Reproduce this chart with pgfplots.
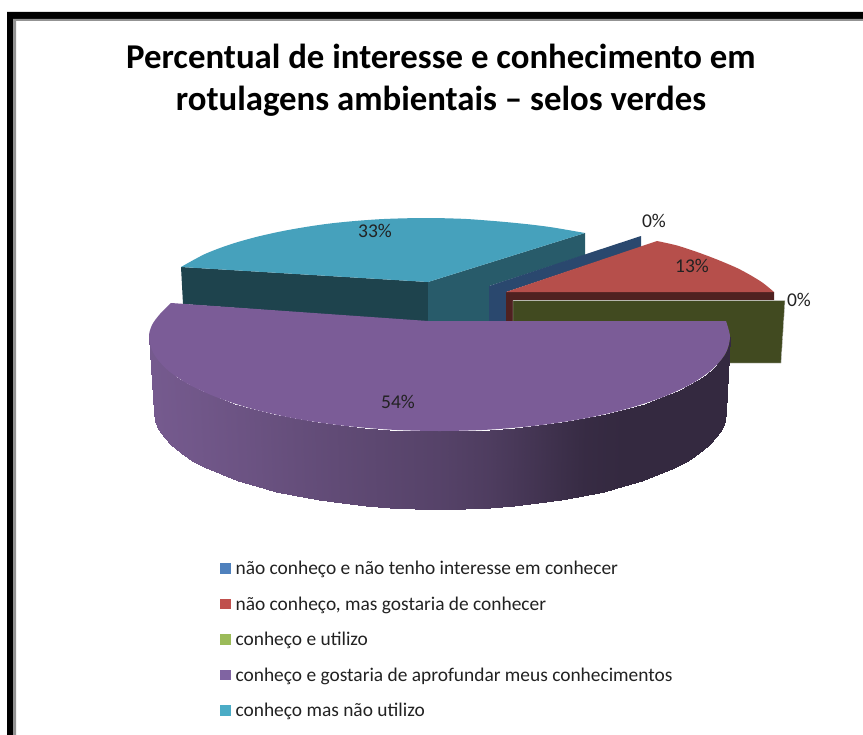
\documentclass[border=0pt]{standalone}
\usepackage{fontspec}
\setmainfont{Carlito}
\usepackage{pgfplots}
\pgfplotsset{compat=1.18}
\definecolor{lblue}{HTML}{4F81BD}
\definecolor{lred}{HTML}{C0504D}
\definecolor{lgreen}{HTML}{9BBB59}
\definecolor{lpurple}{HTML}{8064A2}
\definecolor{lteal}{HTML}{4BACC6}
\definecolor{ttop}{HTML}{46A1BC}
\definecolor{tleft}{HTML}{1E434D}
\definecolor{tright}{HTML}{285B6A}
\definecolor{bside}{HTML}{2A486E}
\definecolor{rtop}{HTML}{B64F4B}
\definecolor{rside}{HTML}{4F2120}
\definecolor{gside}{HTML}{414A20}
\definecolor{ptop}{HTML}{7B5C97}
\definecolor{txt}{HTML}{222222}
\begin{document}
\begin{tikzpicture}
\begin{axis}[
  scale only axis, width=863bp, height=735bp,
  xmin=0, xmax=863, ymin=0, ymax=735, y dir=reverse,
  axis lines=none, clip=true,
  colormap={wall}{rgb255(0cm)=(52,41,64); rgb255(1cm)=(117,90,142)},
  point meta min=0, point meta max=100,
  legend style={draw=none, fill=none, at={(axis cs:220,561)}, anchor=north west,
    font=\fontsize{19.4bp}{21bp}\selectfont\color{txt}, row sep=20.5bp, inner sep=0pt,
    nodes={inner sep=0pt}},
  legend cell align=left,
  legend image code/.code={\fill[#1, draw=none] (0bp,-5bp) rectangle (10.5bp,5.5bp); \path (0bp,0bp) (15bp,0bp);},
]
% page
\addplot[fill=white, draw=none, forget plot] coordinates {(0,0) (863,0) (863,735) (0,735)} -- cycle;
% frame
\addplot[fill=black, draw=none, forget plot] coordinates {(7,12) (863,12) (863,19) (13,19) (13,735) (7,735)} -- cycle;
\addplot[fill=gray!85, draw=none, forget plot] coordinates {(13,19) (863,19) (863,21) (16,21) (16,735) (13,735)} -- cycle;
% teal slice (33%)
\addplot[fill=tleft, draw=none, forget plot] coordinates {(181,267) (428,282) (428,322) (183,304)} -- cycle;
\addplot[fill=tright, draw=none, forget plot] coordinates {(428,282) (585,233) (585,255) (489,286) (489,322) (428,322)} -- cycle;
\addplot[fill=ttop, draw=none, smooth, forget plot] coordinates {(181,267) (205,254) (230,244.5) (255,237.3) (280,231.6) (305,227.1) (330,223.5) (355,221) (380,219.2) (405,218.3) (430,218) (450,218.4) (470,219.2) (503,221.8) (530,224.5) (553,227.5) (585,233)} -- (axis cs:428,282) -- cycle;
% blue slice (0%)
\addplot[fill=bside, draw=none, forget plot] coordinates {(489,286) (641,236) (641,247) (506,292) (506,322) (489,322)} -- cycle;
% red slice (13%)
\addplot[fill=rside, draw=none, forget plot] coordinates {(506,292) (774,292) (774,300) (513,300) (513,322) (506,322)} -- cycle;
\addplot[fill=rtop, draw=none, smooth, forget plot] coordinates {(657,241) (677,245.5) (697,252) (717,259.5) (737,268) (751,275.5) (763,283) (774,292)} -- (axis cs:506,292) -- cycle;
% green slice (0%)
\addplot[fill=gside, draw=black!20!white, line width=0.4bp, forget plot] coordinates {(513,300.5) (785,300.5) (781,363) (700,363) (700,322) (513,322)} -- cycle;
% purple slice (54%): wall
\addplot[surf, shader=interp, mesh/rows=2, point meta=explicit, forget plot] table[meta=c] {
x y c
730 337 0
728.9 345.2 0
725.6 353.3 0
720.1 361.3 0
712.5 369.1 0
702.8 376.7 0
691.1 384 0
677.5 390.9 0
662 397.4 0
644.9 403.5 0
626.3 409 0
606.1 414 2
584.8 418.4 5
562.3 422.2 13
538.9 425.3 22
514.7 427.8 31
490 429.6 40
464.8 430.6 46
439.5 431 52
414.2 430.6 56
389 429.6 60
364.3 427.8 64
340.1 425.3 68
316.7 422.2 72
294.2 418.4 76
272.9 414 80
252.7 409 84
234.1 403.5 87
217 397.4 90
201.5 390.9 92.5
187.9 384 95
176.2 376.7 96.5
166.5 369.1 98
158.9 361.3 99
153.4 353.3 100
150.1 345.2 100
149 337 100
726 412 0
724.9 420.5 0
721.7 428.8 0
716.2 437.1 0
708.8 445.2 0
699.2 453 0
687.7 460.5 0
674.3 467.6 0
659.1 474.4 0
642.2 480.6 0
623.8 486.3 0
604 491.5 2
583 496 5
560.9 499.9 13
537.8 503.2 22
514 505.7 31
489.7 507.5 40
464.9 508.6 46
440 509 52
415.1 508.6 56
390.3 507.5 60
366 505.7 64
342.2 503.2 68
319.1 499.9 72
297 496 76
276 491.5 80
256.2 486.3 84
237.8 480.6 87
220.9 474.4 90
205.7 467.6 92.5
192.3 460.5 95
180.8 453 96.5
171.2 445.2 98
163.8 437.1 99
158.3 428.8 100
155.1 420.5 100
154 412 100
};
% purple slice: top
\addplot[fill=ptop, draw=none, smooth, forget plot] coordinates {(726,321) (730,337) (725.6,353.3) (712.5,369.1) (691.1,384) (662,397.4) (626.3,409) (584.8,418.4) (538.9,425.3) (490,429.6) (439.5,431) (389,429.6) (340.1,425.3) (294.2,418.4) (252.7,409) (217,397.4) (187.9,384) (166.5,369.1) (153.4,353.3) (149,337) (152,325) (160,314) (171,303)} -- (axis cs:428,321) -- cycle;
% legend
\addlegendimage{fill=lblue}\addlegendentry{não conheço e não tenho interesse em conhecer}
\addlegendimage{fill=lred}\addlegendentry{não conheço, mas gostaria de conhecer}
\addlegendimage{fill=lgreen}\addlegendentry{conheço e utilizo}
\addlegendimage{fill=lpurple}\addlegendentry{conheço e gostaria de aprofundar meus conhecimentos}
\addlegendimage{fill=lteal}\addlegendentry{conheço mas não utilizo}
% title
\node[align=center, font=\fontsize{34.8bp}{41.5bp}\selectfont\bfseries, text=black] at (axis cs:441,80) {Percentual de interesse e conhecimento em\\rotulagens ambientais – selos verdes};
% data labels
\begin{scope}[every node/.style={font=\fontsize{19.5bp}{21bp}\selectfont, text=txt}]
\node at (axis cs:375,231) {33\%};
\node at (axis cs:654,221) {0\%};
\node at (axis cs:692,266) {13\%};
\node at (axis cs:799,300) {0\%};
\node at (axis cs:398,402) {54\%};
\end{scope}
\end{axis}
\end{tikzpicture}
\end{document}
